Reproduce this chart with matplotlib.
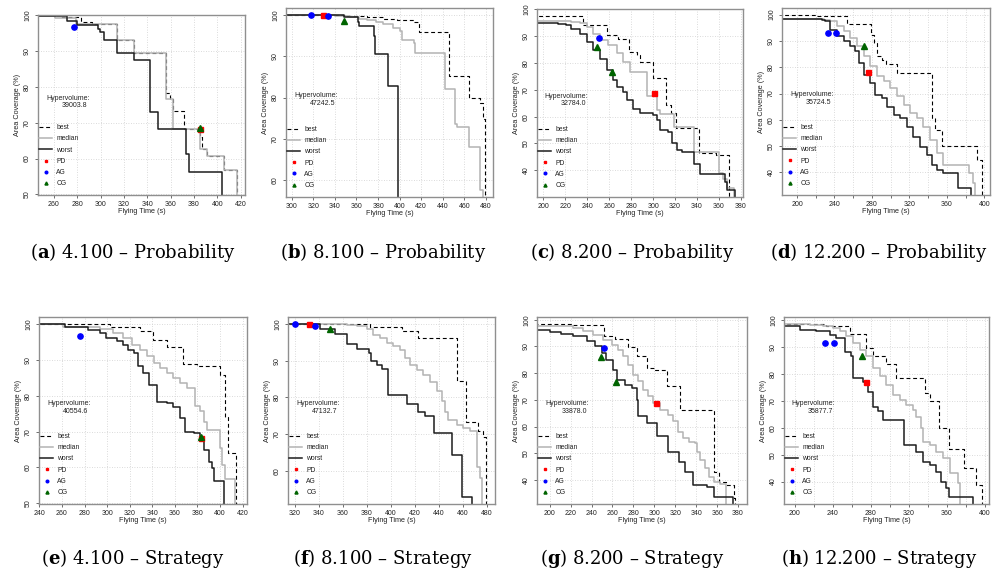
import matplotlib
matplotlib.use("Agg")
import matplotlib.pyplot as plt

# =========================
# data
# =========================

# (a) 4.100 - Probability
a_best_x = [240, 266, 283.7, 293, 313.7, 328.6, 355.7, 359.7, 361.7, 371.7, 385.5, 387, 390.9, 406, 416.6]
a_best_y = [100, 99.6, 98.1, 97.7, 93.2, 89.6, 78.3, 76.5, 73.2, 68.3, 66.0, 62.6, 60.7, 56.7, 20]
a_med_x = [240, 261, 279, 313.7, 328.6, 355.7, 361.7, 385, 390.9, 406, 416.6]
a_med_y = [99.9, 99.3, 97.7, 93.2, 89.6, 76.5, 68.3, 62.6, 60.7, 56.7, 20]
a_worst_x = [240, 270.9, 280, 298, 299.5, 302.9, 313.7, 328.6, 342.3, 349.4, 372.9, 375.7, 404.3]
a_worst_y = [99.7, 98.3, 97.4, 96.3, 95.3, 93.2, 89.6, 87.6, 73.1, 68.3, 61.4, 56.1, 20]
a_pd = ([385.1], [68.3])
a_ag = ([277.1], [96.7])
a_cg = ([385.1], [68.5])

# (b) 8.100 - Probability
b_best_x = [290, 351, 370, 385, 397.4, 413, 417.5, 445.4, 464, 474.8, 477, 479.4]
b_best_y = [100, 99.8, 99.5, 99.2, 98.8, 98.3, 95.9, 85.3, 80.0, 78.6, 74.9, 20]
b_med_x = [290, 340, 354, 362, 369.6, 378, 385, 394, 400.5, 402, 413, 414.4, 442.3, 451, 453, 464, 474, 477]
b_med_y = [100, 99.9, 99.6, 99.2, 98.8, 98.4, 98.0, 96.9, 96.1, 94.1, 93.2, 90.8, 82.2, 73.5, 72.8, 67.9, 57.6, 20]
b_worst_x = [290, 348, 361, 362, 375.8, 377.6, 389, 398.7]
b_worst_y = [100, 99.5, 98.5, 97.3, 94.9, 90.5, 82.9, 20]
b_pd = ([329.4], [100.0])
b_ag = ([317.6, 333.7], [100.0, 99.8])
b_cg = ([348.0], [98.6])

# (c) 8.200 - Probability
c_best_x = [190, 235.9, 257.8, 268.4, 278.4, 285.1, 288.1, 299.7, 311.6, 316.1, 320.7, 342.0, 357.5, 368.7]
c_best_y = [97.6, 94.1, 90.4, 88.8, 84.2, 82.9, 80.5, 74.6, 64.5, 61.2, 55.6, 46.5, 45.6, 20]
c_med_x = [190, 225.8, 233.4, 239.5, 245.6, 251.7, 259.3, 266.9, 273.0, 279.0, 294.3, 303.4, 306.4,
           318.6, 336.8, 359.6, 363.6, 367.2, 373.3]
c_med_y = [95.8, 95.3, 94.8, 93.5, 91.0, 88.5, 86.7, 83.6, 80.5, 76.7, 67.6, 62.4, 60.8,
           56.2, 46.8, 38.8, 36.9, 33.2, 20]
c_worst_x = [190, 213.7, 221.3, 225.8, 233.4, 239.5, 245.6, 251.7, 257.8, 263.9, 266.9, 273.0, 276.0,
             282.1, 288.2, 300.3, 303.4, 306.4, 314.0, 317.0, 321.6, 326.1, 336.8, 342.9, 365.7, 367.2, 374.8]
c_worst_y = [95.1, 94.7, 94.1, 92.9, 91.0, 87.9, 84.8, 81.7, 77.3, 73.6, 71.1, 69.3, 66.1,
             63.0, 61.2, 60.5, 58.7, 55.0, 54.3, 50.0, 47.5, 46.8, 42.5, 38.5, 35.6, 32.7, 20]
c_pd = ([301.2], [68.9])
c_ag = ([251.1], [89.4])
c_cg = ([248.6, 262.9], [86.1, 76.7])

# (d) 12.200 - Probability
d_best_x = [180, 221, 253.3, 278.9, 281.7, 285.3, 290.6, 295.2, 306.6, 343.9, 347.4, 354.5, 391.8, 397.9]
d_best_y = [100.0, 99.4, 96.6, 92.4, 89.2, 84.1, 82.8, 81.3, 77.8, 60.6, 56.2, 50.2, 44.7, 20]
d_med_x = [180, 228.4, 235.5, 242.6, 249.7, 256.8, 263.9, 271.0, 278.2, 285.3, 292.4, 299.5, 306.6,
           313.7, 320.8, 327.9, 335.0, 342.1, 349.2, 356.3, 384.0, 388.3, 390.4]
d_med_y = [98.5, 98.1, 97.5, 95.6, 93.6, 91.1, 87.9, 84.1, 80.3, 76.5, 74.6, 72.0, 68.9,
           65.7, 62.5, 60.6, 57.4, 52.3, 47.2, 42.8, 39.6, 35.8, 20]
d_worst_x = [180, 226.6, 230.2, 235.5, 242.6, 249.7, 256.8, 262.2, 265.7, 271.0, 278.2, 283.5, 290.6,
             295.9, 303.0, 310.1, 317.2, 324.3, 331.4, 338.5, 343.9, 349.2, 356.3, 372.3, 385.8]
d_worst_y = [98.5, 98.1, 97.5, 94.3, 91.7, 89.8, 87.9, 86.0, 81.6, 77.1, 73.9, 69.5, 68.2,
             65.0, 61.9, 60.6, 57.4, 53.6, 49.8, 46.6, 42.8, 40.9, 39.6, 33.9, 20]
d_pd = ([276.0], [78.0])
d_ag = ([232.7, 241.9], [93.0, 93.0])
d_cg = ([271.8], [87.9])

# (e) 4.100 - Strategy
e_best_x = [235, 302.7, 329.3, 340.5, 352.9, 367.1, 379.5, 399.6, 404.6, 406.7, 414.4]
e_best_y = [100, 99.1, 98.0, 95.6, 93.5, 88.8, 88.4, 85.8, 74.2, 64.0, 20]
e_med_x = [235, 261.3, 279.0, 293.8, 305.6, 314.5, 321.9, 329.3, 335.2, 341.1, 347.0, 352.9, 358.8,
           364.7, 370.7, 378.0, 382.5, 386.0, 388.4, 400.2, 401.7, 404.6, 413.5]
e_med_y = [100, 99.3, 99.1, 98.7, 97.5, 96.1, 94.2, 92.8, 91.0, 89.1, 87.7, 86.3, 84.9,
           83.5, 82.3, 77.3, 75.8, 72.8, 70.5, 65.4, 60.7, 56.7, 20]
e_worst_x = [235, 262.8, 273.1, 283.5, 293.8, 299.1, 308.6, 314.5, 318.9, 323.4, 327.8, 332.2, 336.7,
             344.0, 352.9, 358.8, 364.7, 369.2, 376.6, 382.5, 385.4, 389.9, 392.8, 394.3, 403.2]
e_worst_y = [100, 99.3, 99.1, 98.4, 97.5, 96.1, 95.2, 94.2, 92.8, 91.9, 88.2, 86.3, 83.1,
             78.4, 77.9, 77.0, 73.9, 70.0, 69.6, 68.6, 64.9, 61.6, 59.8, 56.1, 20]
e_pd = ([383.4], [68.3])
e_ag = ([276.1], [96.7])
e_cg = ([383.4], [68.5])

# (f) 8.100 - Strategy
f_best_x = [310, 383.0, 409.3, 423.2, 455.6, 462.8, 473.1, 477.2, 479.2]
f_best_y = [100, 99.1, 98.0, 96.2, 84.5, 73.4, 70.7, 69.3, 20]
f_med_x = [310, 363.5, 371.9, 380.2, 385.7, 391.3, 396.8, 402.4, 407.9, 412.1, 416.2, 421.8, 427.3,
           432.9, 438.4, 442.6, 445.3, 448.1, 455.1, 460.6, 466.1, 472.2, 474.4, 476.4]
f_med_y = [100, 99.8, 99.4, 98.5, 97.1, 96.2, 94.8, 93.9, 93.0, 90.7, 88.9, 87.5, 86.2,
           84.3, 81.6, 78.9, 76.1, 73.8, 72.5, 71.6, 70.7, 61.1, 57.9, 20]
f_worst_x = [310, 341.4, 353.8, 363.5, 372.4, 381.6, 383.5, 388.5, 393.2, 398.2, 413.5, 423.2, 428.7,
             436.2, 450.9, 459.8, 467.5]
f_worst_y = [100, 98.5, 97.3, 94.5, 93.3, 92.1, 89.8, 88.9, 87.8, 80.7, 78.2, 76.1, 74.9,
             70.4, 64.3, 52.9, 20]
f_pd = ([332.2], [100.0])
f_ag = ([320.6, 336.6], [100.0, 99.5])
f_cg = ([349.7], [98.6])

# (g) 8.200 - Strategy
g_best_x = [185, 220.8, 252.1, 262.3, 275.1, 283.1, 292.7, 300.7, 311.9, 324.7, 356.6, 361.4, 368.5, 375.8, 377.5]
g_best_y = [98.4, 98.1, 93.8, 92.9, 89.6, 86.3, 81.9, 81.3, 75.3, 66.3, 43.1, 39.4, 38.1, 33.1, 20]
g_med_x = [185, 222.4, 232.0, 241.6, 251.2, 259.1, 265.5, 270.3, 275.1, 279.9, 284.7, 289.5, 294.3, 299.1,
           305.5, 313.5, 318.3, 323.1, 327.9, 332.7, 339.1, 340.7, 343.9, 348.7, 351.9, 356.6, 363.0, 368.8]
g_med_y = [97.5, 96.9, 95.6, 94.4, 92.5, 90.6, 88.8, 86.3, 83.1, 79.4, 76.9, 73.8, 71.3, 68.8,
           66.3, 64.4, 61.9, 58.1, 55.6, 54.4, 53.8, 50.6, 47.5, 44.4, 41.3, 39.4, 38.4, 20]
g_worst_x = [185, 200, 211.2, 222.4, 235.2, 243.2, 249.6, 254.3, 260.7, 263.9, 271.9, 278.3, 283.1,
             284.1, 292.7, 302.3, 313.5, 324.0, 329.5, 336.8, 350.3, 356.6, 374.9]
g_worst_y = [96.0, 95.4, 94.6, 93.8, 91.9, 90.0, 87.5, 85.0, 81.3, 77.5, 75.6, 74.4, 70.0,
             64.0, 61.5, 56.3, 50.6, 46.9, 43.1, 38.1, 37.3, 33.5, 20]
g_pd = ([301.7], [68.8])
g_ag = ([251.8], [89.4])
g_cg = ([248.9, 263.0], [86.0, 76.6])

# (h) 12.200 - Strategy
h_best_x = [185, 233.3, 257.9, 275.4, 282.5, 296.5, 307.0, 336.8, 342.1, 351.6, 362.5, 378.2, 391.2, 397.5]
h_best_y = [98.4, 97.8, 94.7, 89.5, 86.6, 83.5, 78.3, 72.8, 69.7, 60.0, 52.0, 44.9, 38.7, 20]
h_med_x = [185, 215.8, 229.8, 240.4, 247.4, 254.4, 261.4, 268.4, 275.4, 282.5, 289.5, 296.5, 303.5,
           310.5, 317.5, 324.6, 328.1, 333.3, 335.1, 342.1, 349.1, 356.1, 363.2, 371.9, 374.4]
h_med_y = [98.4, 98.1, 97.5, 96.9, 95.7, 93.8, 91.3, 88.9, 86.4, 82.1, 79.0, 75.9, 72.2,
           70.3, 68.4, 66.6, 64.1, 59.8, 54.8, 53.6, 51.1, 48.6, 43.1, 39.4, 20]
h_worst_x = [185, 205.3, 222.8, 236.8, 243.9, 252.6, 259.6, 261.4, 271.9, 277.2, 282.5, 287.7, 293.0,
             314.7, 328.1, 335.1, 342.1, 349.1, 354.4, 359.6, 362.1, 387.7]
h_worst_y = [97.5, 96.3, 95.7, 94.4, 93.4, 88.2, 86.4, 78.3, 77.1, 73.4, 67.8, 66.0, 62.9,
             53.6, 51.1, 47.4, 46.2, 43.7, 40.0, 37.5, 34.2, 20]
h_pd = ([275.4], [76.9])
h_ag = ([231.6, 241.1], [91.3, 91.3])
h_cg = ([270.9], [86.4])

HYPERVOLUME = ["39003.8", "47242.5", "32784.0", "35724.5",
               "40554.6", "47132.7", "33878.0", "35877.7"]
LETTERS = ["a", "b", "c", "d", "e", "f", "g", "h"]
CAPTIONS = ["4.100 – Probability", "8.100 – Probability", "8.200 – Probability", "12.200 – Probability",
            "4.100 – Strategy", "8.100 – Strategy", "8.200 – Strategy", "12.200 – Strategy"]

XLIMS = [(246.5, 423.7), (294.7, 486.5), (194.5, 381.8), (184.0, 406.0),
         (239.7, 423.9), (314.5, 487.0), (187.9, 388.6), (188.8, 404.6)]
YLIMS = [(49.8, 100.1), (55.8, 101.8), (30.0, 100.2), (31.4, 102.5),
         (49.8, 102.0), (50.9, 101.9), (31.0, 101.0), (31.7, 101.0)]
XTICKS = [range(260, 421, 20), range(300, 481, 20), range(200, 381, 20), range(200, 401, 20),
          range(240, 421, 20), range(320, 481, 20), range(200, 381, 20), range(200, 401, 20)]
YTICKS = [range(50, 101, 10), range(60, 101, 10), range(40, 101, 10), range(40, 101, 10),
          range(50, 101, 10), range(60, 101, 10), range(40, 101, 10), range(40, 101, 10)]

# =========================
# layout (figure fractions)
# =========================
AX_POS = [[0.0381, 0.6626, 0.2074, 0.3114], [0.2866, 0.6592, 0.2074, 0.3270],
          [0.5381, 0.6592, 0.2064, 0.3253], [0.7836, 0.6626, 0.2084, 0.3235],
          [0.0391, 0.1280, 0.2084, 0.3235], [0.2886, 0.1280, 0.2074, 0.3235],
          [0.5381, 0.1280, 0.2104, 0.3235], [0.7856, 0.1280, 0.2054, 0.3235]]
CAP_X = [133, 383, 632, 879]
CAP_Y = [258, 564]

curves = [
    (a_best_x, a_best_y, a_med_x, a_med_y, a_worst_x, a_worst_y, a_pd, a_ag, a_cg),
    (b_best_x, b_best_y, b_med_x, b_med_y, b_worst_x, b_worst_y, b_pd, b_ag, b_cg),
    (c_best_x, c_best_y, c_med_x, c_med_y, c_worst_x, c_worst_y, c_pd, c_ag, c_cg),
    (d_best_x, d_best_y, d_med_x, d_med_y, d_worst_x, d_worst_y, d_pd, d_ag, d_cg),
    (e_best_x, e_best_y, e_med_x, e_med_y, e_worst_x, e_worst_y, e_pd, e_ag, e_cg),
    (f_best_x, f_best_y, f_med_x, f_med_y, f_worst_x, f_worst_y, f_pd, f_ag, f_cg),
    (g_best_x, g_best_y, g_med_x, g_med_y, g_worst_x, g_worst_y, g_pd, g_ag, g_cg),
    (h_best_x, h_best_y, h_med_x, h_med_y, h_worst_x, h_worst_y, h_pd, h_ag, h_cg),
]

plt.rcParams["font.family"] = ["Liberation Sans", "DejaVu Sans"]
plt.rcParams["mathtext.fontset"] = "dejavuserif"

fig = plt.figure(figsize=(9.98, 5.78), dpi=100)

for i, (bx, by, mx, my, wx, wy, pd, ag, cg) in enumerate(curves):
    ax = fig.add_axes(AX_POS[i])

    ax.plot(bx, by, drawstyle="steps-post", color="black", lw=0.8,
            ls=(0, (3.5, 2.5)), label="best")
    ax.plot(mx, my, drawstyle="steps-post", color="#b3b3b3", lw=1.1, label="median")
    ax.plot(wx, wy, drawstyle="steps-post", color="#1c1c1c", lw=1.1, label="worst")
    ax.plot(*pd, ls="none", marker="s", ms=3.6, color="red", label="PD")
    ax.plot(*ag, ls="none", marker="o", ms=3.8, color="blue", label="AG")
    ax.plot(*cg, ls="none", marker="^", ms=4.4, color="darkgreen", label="CG")

    ax.set_xlim(*XLIMS[i])
    ax.set_ylim(*YLIMS[i])

    xt = list(XTICKS[i])
    ax.set_xticks(xt)
    if xt[-1] - xt[0] >= 200:
        ax.set_xticklabels([str(v) if (v - xt[0]) % 40 == 0 else "" for v in xt])
    ax.set_yticks(list(YTICKS[i]))

    ax.grid(True, ls=(0, (1, 2)), color="#cfcfcf", lw=0.6)
    ax.set_axisbelow(True)
    for s in ax.spines.values():
        s.set_color("#8f8f8f")
        s.set_linewidth(1.0)

    ax.tick_params(direction="out", length=2.5, width=0.6, color="#555555",
                   labelsize=5, pad=1.5, labelcolor="#222222")
    ax.tick_params(axis="y", labelrotation=90, pad=2.5)
    for lbl in ax.get_yticklabels():
        lbl.set_va("center")

    ax.set_xlabel("Flying Time (s)", fontsize=5.2, labelpad=0.5, color="#222222")
    ax.set_ylabel("Area Coverage (%)", fontsize=5.2, labelpad=2.0, color="#222222")

    ax.text(0.038, 0.535, "Hypervolume:", transform=ax.transAxes,
            fontsize=5, ha="left", va="center", color="#222222")
    ax.text(0.237, 0.495, HYPERVOLUME[i], transform=ax.transAxes,
            fontsize=5, ha="right", va="center", color="#222222")

    ax.legend(loc="lower left", bbox_to_anchor=(0.0, 0.035), frameon=False,
              fontsize=4.9, handlelength=1.9, handletextpad=0.6, labelspacing=0.62,
              borderaxespad=0.0, borderpad=0.2, markerscale=0.5, labelcolor="#222222")

    row, col = divmod(i, 4)
    fig.text(CAP_X[col] / 998, 1 - CAP_Y[row] / 578,
             r"($\mathbf{" + LETTERS[i] + r"}$) " + CAPTIONS[i],
             ha="center", va="baseline", fontsize=13, family="DejaVu Serif")

fig.savefig("out.png", dpi=100)
